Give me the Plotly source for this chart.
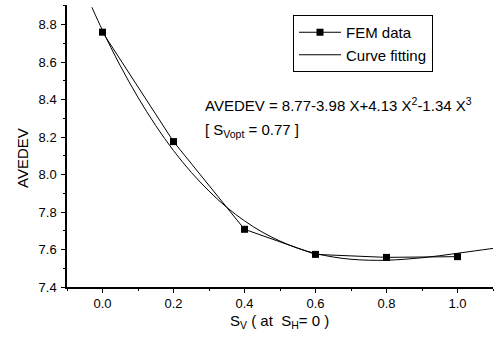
import plotly.graph_objects as go

# FEM data
sv = [0.0, 0.2, 0.4, 0.6, 0.8, 1.0]
avedev = [8.76, 8.176, 7.708, 7.574, 7.558, 7.562]

# Curve fitting
fit_x = [-0.03, 0.0, 0.05, 0.1, 0.15, 0.2, 0.25, 0.3, 0.35, 0.4, 0.45, 0.5, 0.55,
         0.6, 0.65, 0.7, 0.75, 0.8, 0.85, 0.9, 0.95, 1.0, 1.05, 1.1]
fit_y = [8.893, 8.770, 8.581, 8.412, 8.261, 8.128, 8.012, 7.912, 7.825, 7.753,
         7.693, 7.645, 7.607, 7.579, 7.560, 7.548, 7.543, 7.543, 7.548, 7.556,
         7.567, 7.580, 7.593, 7.606]

x_ticks = [0.0, 0.2, 0.4, 0.6, 0.8, 1.0]
y_ticks = [7.4, 7.6, 7.8, 8.0, 8.2, 8.4, 8.6, 8.8]

FONT = "Liberation Sans, Arial, sans-serif"
W, H = 495, 342
L, R, T, B = 67, 2, 5, 55

fig = go.Figure()
fig.add_trace(go.Scatter(
    x=sv, y=avedev, mode="lines+markers", name="FEM data",
    line=dict(color="black", width=1),
    marker=dict(symbol="square", size=7, color="black"),
))
fig.add_trace(go.Scatter(
    x=fit_x, y=fit_y, mode="lines", name="Curve fitting",
    line=dict(color="black", width=1, shape="spline"),
))

axis_common = dict(
    showline=True, linecolor="black", linewidth=1.5,
    ticks="outside", ticklen=4, tickwidth=1.2, tickcolor="black",
    showgrid=False, zeroline=False, mirror=False,
    tickfont=dict(family=FONT, size=13, color="black"),
)

fig.update_xaxes(
    range=[-0.1, 1.1], tickvals=x_ticks, ticktext=[f"{v:.1f}" for v in x_ticks],
    minor=dict(ticks="outside", ticklen=2, dtick=0.1, tick0=0, tickcolor="black"),
    **axis_common,
)
fig.update_yaxes(
    range=[7.4, 8.905], tickvals=y_ticks, ticktext=[f"{v:.1f}" for v in y_ticks],
    minor=dict(ticks="outside", ticklen=2, dtick=0.1, tick0=7.4, tickcolor="black"),
    ticklabelstandoff=2,
    **axis_common,
)

pw, ph = W - L - R, H - T - B


def px(xp):
    return (xp - L) / pw


def py(yp):
    return (H - B - yp) / ph


# Axis titles
fig.add_annotation(
    xref="paper", yref="paper", x=px(22), y=py(158), xanchor="center", yanchor="middle",
    text="AVEDEV", textangle=-90, showarrow=False,
    font=dict(family=FONT, size=15, color="black"),
)
fig.add_annotation(
    xref="paper", yref="paper", x=px(279), y=py(321), xanchor="center", yanchor="middle",
    text="S<sub>V</sub> ( at  S<sub>H</sub>= 0 )", showarrow=False,
    font=dict(family=FONT, size=15, color="black"),
)

fig.add_annotation(
    xref="paper", yref="paper", x=px(203), y=py(105), xanchor="left", yanchor="middle",
    text="AVEDEV = 8.77-3.98 X+4.13 X<sup>2</sup>-1.34 X<sup>3</sup>",
    showarrow=False, font=dict(family=FONT, size=15, color="black"),
)
fig.add_annotation(
    xref="paper", yref="paper", x=px(203), y=py(130), xanchor="left", yanchor="middle",
    text="[ S<sub>Vopt</sub> = 0.77 ]",
    showarrow=False, font=dict(family=FONT, size=15, color="black"),
)

fig.update_layout(
    width=W, height=H,
    margin=dict(l=L, r=R, t=T, b=B, autoexpand=False),
    paper_bgcolor="white", plot_bgcolor="white",
    showlegend=True,
    legend=dict(
        x=px(293), y=py(15), xanchor="left", yanchor="top",
        bordercolor="black", borderwidth=1, bgcolor="white",
        font=dict(family=FONT, size=15, color="black"),
        tracegroupgap=0, itemwidth=42,
    ),
)

fig.write_html(
    "out.html",
    config={"displayModeBar": False},
    post_script="document.body.style.margin='0';document.body.style.padding='0';",
)
